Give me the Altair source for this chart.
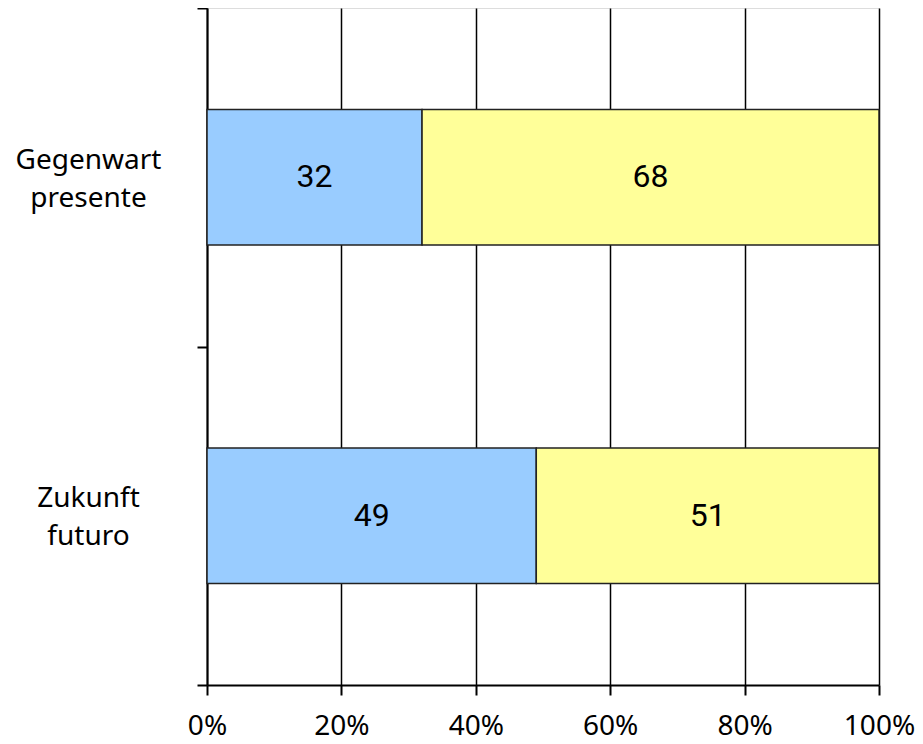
import altair as alt
import pandas as pd

categories = ["Gegenwart|presente", "Zukunft|futuro"]
series = ["blue", "yellow"]
blue_values = [32, 49]
yellow_values = [68, 51]
x_ticks = [0, 20, 40, 60, 80, 100]
colors = ["#99CCFF", "#FFFF99"]

rows = []
for c, b, yv in zip(categories, blue_values, yellow_values):
    rows.append({"cat": c, "series": series[0], "order": 0, "value": b})
    rows.append({"cat": c, "series": series[1], "order": 1, "value": yv})
df = pd.DataFrame(rows)

FONT = "Noto Sans"

y_enc = alt.Y(
    "cat:N",
    sort=categories,
    scale=alt.Scale(paddingInner=0, paddingOuter=0),
    axis=alt.Axis(
        title=None,
        tickBand="extent",
        tickSize=10,
        tickWidth=2,
        tickColor="black",
        domainColor="black",
        domainWidth=2,
        labelPadding=109,
        labelAlign="center",
        labelBaseline="middle",
        labelOffset=-17,
        labelExpr="split(datum.label, '|')",
        labelFont=FONT,
        labelFontSize=28,
        labelColor="black",
        labelLineHeight=38,
        grid=False,
    ),
)

x_scale = alt.Scale(domain=[0, 100], nice=False)

bars = alt.Chart(df).mark_bar(
    height={"band": 0.4}, stroke="#222222", strokeWidth=1.5
).encode(
    x=alt.X(
        "value:Q",
        stack="zero",
        scale=x_scale,
        axis=alt.Axis(
            title=None,
            values=x_ticks,
            labelExpr="datum.value + '%'",
            tickSize=10,
            tickWidth=2,
            tickColor="black",
            domainColor="black",
            domainWidth=2,
            grid=True,
            gridColor="black",
            gridWidth=1.5,
            gridOpacity=1,
            labelPadding=17,
            labelFont=FONT,
            labelFontSize=28,
            labelColor="black",
            labelFlush=False,
        ),
    ),
    y=y_enc,
    color=alt.Color(
        "series:N",
        scale=alt.Scale(domain=series, range=colors),
        legend=None,
    ),
    order=alt.Order("order:Q"),
)

labels = alt.Chart(df).transform_window(
    cum="sum(value)", groupby=["cat"], sort=[alt.SortField("order")]
).transform_calculate(
    mid="datum.cum - datum.value / 2"
).mark_text(
    font="Roboto", fontSize=32, color="black", align="center", baseline="middle"
).encode(
    x=alt.X("mid:Q", scale=x_scale),
    y=alt.Y("cat:N", sort=categories),
    text=alt.Text("value:Q"),
)

chart = alt.layer(bars, labels).properties(
    width=672,
    height=677,
    autosize=alt.AutoSizeParams(type="none"),
    padding={"left": 199, "top": 0, "right": 36, "bottom": 50},
).configure_view(
    stroke="black", strokeWidth=1.5
).configure(
    background="white"
)

chart.save("out.html", embed_options={"renderer": "svg", "actions": False})
